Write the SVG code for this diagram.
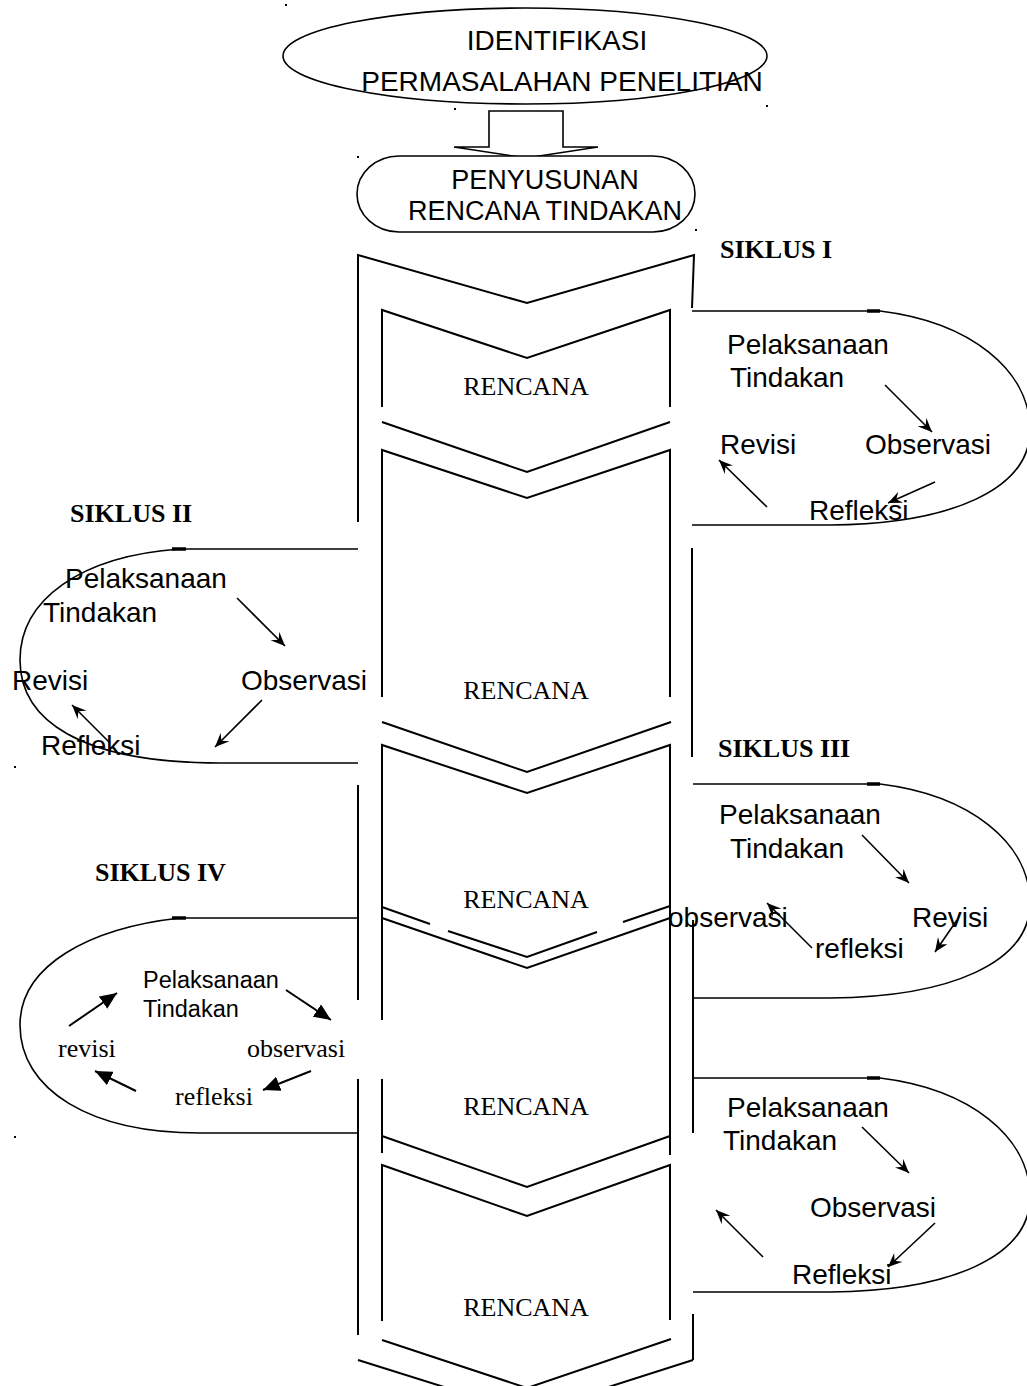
<svg xmlns="http://www.w3.org/2000/svg" width="1027" height="1386" viewBox="0 0 1027 1386">
<style>
.ln{fill:none;stroke:#000;stroke-width:2;stroke-linejoin:miter}
.lp{fill:none;stroke:#000;stroke-width:1.6}
.th{stroke:#000;stroke-width:3.5}
.ar{fill:none;stroke:#000;stroke-width:1.6;marker-end:url(#st)}
.ar2{fill:none;stroke:#000;stroke-width:2;marker-end:url(#tri)}
.sans{font-family:"Liberation Sans",Arial,sans-serif;font-size:28px;fill:#000}
.sm{font-family:"Liberation Sans",Arial,sans-serif;font-size:23.5px;fill:#000}
.ser{font-family:"Liberation Serif","Times New Roman",serif;font-size:26px;fill:#000}
.bold{font-family:"Liberation Serif","Times New Roman",serif;font-size:26px;font-weight:bold;fill:#000}
.dot{fill:#000}
</style>
<defs>
<marker id="st" viewBox="0 0 14 12" refX="14" refY="6" markerWidth="14" markerHeight="12" markerUnits="userSpaceOnUse" orient="auto">
<path d="M0,0 L14,6 L0,12 L5,6 z" fill="#000"/>
</marker>
<marker id="tri" viewBox="0 0 17 15" refX="17" refY="7.5" markerWidth="17" markerHeight="15" markerUnits="userSpaceOnUse" orient="auto">
<path d="M0,0 L17,7.5 L0,15 z" fill="#000"/>
</marker>
</defs>
<rect width="1027" height="1386" fill="#fff"/>

<g id="identifikasi">
<ellipse cx="525" cy="56" rx="242" ry="48" fill="#fff" stroke="#000" stroke-width="1.6"/>
<text class="sans" x="557" y="50" text-anchor="middle">IDENTIFIKASI</text>
<text class="sans" x="562" y="91" text-anchor="middle">PERMASALAHAN PENELITIAN</text>
</g>

<g id="block-arrow">
<polygon points="489,111 563,111 563,147 598,147 526,158 454,147 489,147" fill="#fff" stroke="#000" stroke-width="1.6"/>
</g>

<g id="penyusunan">
<rect x="357" y="156" width="338" height="76" rx="42" ry="38" fill="#fff" stroke="#000" stroke-width="1.6"/>
<text class="sans" x="545" y="189" text-anchor="middle" style="font-size:27px">PENYUSUNAN</text>
<text class="sans" x="545" y="220" text-anchor="middle" style="font-size:27px">RENCANA TINDAKAN</text>
</g>

<g id="dots">
<rect class="dot" x="285" y="4" width="2" height="2"/>
<rect class="dot" x="454" y="108" width="2" height="2"/>
<rect class="dot" x="357" y="156" width="2" height="2"/>
<rect class="dot" x="695" y="229" width="2" height="2"/>
<rect class="dot" x="766" y="105" width="2" height="2"/>
<rect class="dot" x="14" y="766" width="2" height="2"/>
<rect class="dot" x="14" y="1136" width="2" height="2"/>
</g>

<g id="column">
<path class="ln" d="M358,522 V255 L527,303 L694,255 L692,308"/>
<path class="ln" d="M382,407 V310 L527,358 L670,310 V407"/>
<path class="ln" d="M382,422 L527,472 L670,422"/>
<path class="ln" d="M382,697 V450 L527,498 L670,450 V697"/>
<path class="ln" d="M382,722 L527,772 L671,722"/>
<path class="ln" d="M382,1020 V745 L527,793 L670,745 V1155"/>
<path class="ln" d="M382,907 L430,924 M448,931 L527,957 L597,932 M623,922 L670,906"/>
<path class="ln" d="M382,918 L527,968 L670,918"/>
<path class="ln" d="M382,1079 V1153"/>
<path class="ln" d="M382,1136 L527,1187 L670,1136"/>
<path class="ln" d="M382,1321 V1165 L527,1216 L670,1165 V1320"/>
<path class="ln" d="M382,1340 L527,1388 L671,1339"/>
<path class="ln" d="M358,785 V1000 M358,1079 V1335"/>
<path class="ln" d="M692,548 V757 M693,920 V1133 M693,1314 V1360"/>
<path class="ln" d="M358,1360 L527,1413 L693,1360"/>
</g>

<g id="rencana-labels">
<text class="ser" x="526" y="395" text-anchor="middle">RENCANA</text>
<text class="ser" x="526" y="699" text-anchor="middle">RENCANA</text>
<text class="ser" x="526" y="908" text-anchor="middle">RENCANA</text>
<text class="ser" x="526" y="1115" text-anchor="middle">RENCANA</text>
<text class="ser" x="526" y="1316" text-anchor="middle">RENCANA</text>
</g>

<g id="siklus-1">
<text class="bold" x="720" y="258">SIKLUS I</text>
<path class="lp" d="M692,311 H880 C970,322 1030,370 1030,430 C1030,490 950,524 830,525 H692"/>
<line class="th" x1="867" y1="311" x2="880" y2="311"/>
<text class="sans" x="727" y="354">Pelaksanaan</text>
<text class="sans" x="730" y="387">Tindakan</text>
<text class="sans" x="720" y="454">Revisi</text>
<text class="sans" x="865" y="454">Observasi</text>
<text class="sans" x="809" y="520">Refleksi</text>
</g>

<g id="siklus-2">
<text class="bold" x="70" y="522">SIKLUS II</text>
<path class="lp" d="M358,549 H180 C80,556 20,600 20,660 C20,720 80,763 220,763 H358"/>
<line class="th" x1="172" y1="549" x2="186" y2="549"/>
<text class="sans" x="65" y="588">Pelaksanaan</text>
<text class="sans" x="43" y="622">Tindakan</text>
<text class="sans" x="12" y="690">Revisi</text>
<text class="sans" x="241" y="690">Observasi</text>
<text class="sans" x="41" y="755">Refleksi</text>
</g>

<g id="siklus-3">
<text class="bold" x="718" y="757">SIKLUS III</text>
<path class="lp" d="M693,784 H880 C970,795 1030,843 1030,903 C1030,963 950,997 830,998 H693"/>
<line class="th" x1="867" y1="784" x2="880" y2="784"/>
<text class="sans" x="719" y="824">Pelaksanaan</text>
<text class="sans" x="730" y="858">Tindakan</text>
<text class="sans" x="668" y="927">observasi</text>
<text class="sans" x="912" y="927">Revisi</text>
<text class="sans" x="815" y="958">refleksi</text>
</g>

<g id="siklus-4">
<text class="bold" x="95" y="881">SIKLUS IV</text>
<path class="lp" d="M358,918 H180 C90,928 20,965 20,1025 C20,1090 90,1133 200,1133 H358"/>
<line class="th" x1="172" y1="918" x2="186" y2="918"/>
<text class="sm" x="143" y="988">Pelaksanaan</text>
<text class="sm" x="143" y="1017">Tindakan</text>
<text class="ser" x="58" y="1057">revisi</text>
<text class="ser" x="247" y="1057">observasi</text>
<text class="ser" x="175" y="1105">refleksi</text>
</g>

<g id="siklus-5">
<path class="lp" d="M693,1078 H880 C970,1089 1030,1137 1030,1197 C1030,1257 950,1291 830,1292 H693"/>
<line class="th" x1="867" y1="1078" x2="880" y2="1078"/>
<text class="sans" x="727" y="1117">Pelaksanaan</text>
<text class="sans" x="723" y="1150">Tindakan</text>
<text class="sans" x="810" y="1217">Observasi</text>
<text class="sans" x="792" y="1284">Refleksi</text>
</g>

<g id="connectors">
<line class="ar" x1="885" y1="385" x2="932" y2="432"/>
<line class="ar" x1="935" y1="482" x2="888" y2="503"/>
<line class="ar" x1="767" y1="507" x2="719" y2="460"/>

<line class="ar" x1="237" y1="598" x2="285" y2="646"/>
<line class="ar" x1="262" y1="700" x2="215" y2="747"/>
<line class="ar" x1="110" y1="743" x2="72" y2="705"/>

<line class="ar" x1="862" y1="835" x2="909" y2="883"/>
<line class="ar" x1="957" y1="920" x2="935" y2="952"/>
<line class="ar" x1="812" y1="948" x2="767" y2="903"/>

<line class="ar2" x1="69" y1="1026" x2="117" y2="993"/>
<line class="ar2" x1="286" y1="990" x2="331" y2="1020"/>
<line class="ar2" x1="311" y1="1071" x2="263" y2="1090"/>
<line class="ar2" x1="136" y1="1091" x2="95" y2="1071"/>

<line class="ar" x1="862" y1="1127" x2="909" y2="1173"/>
<line class="ar" x1="935" y1="1223" x2="888" y2="1267"/>
<line class="ar" x1="763" y1="1257" x2="716" y2="1210"/>
</g>
</svg>
